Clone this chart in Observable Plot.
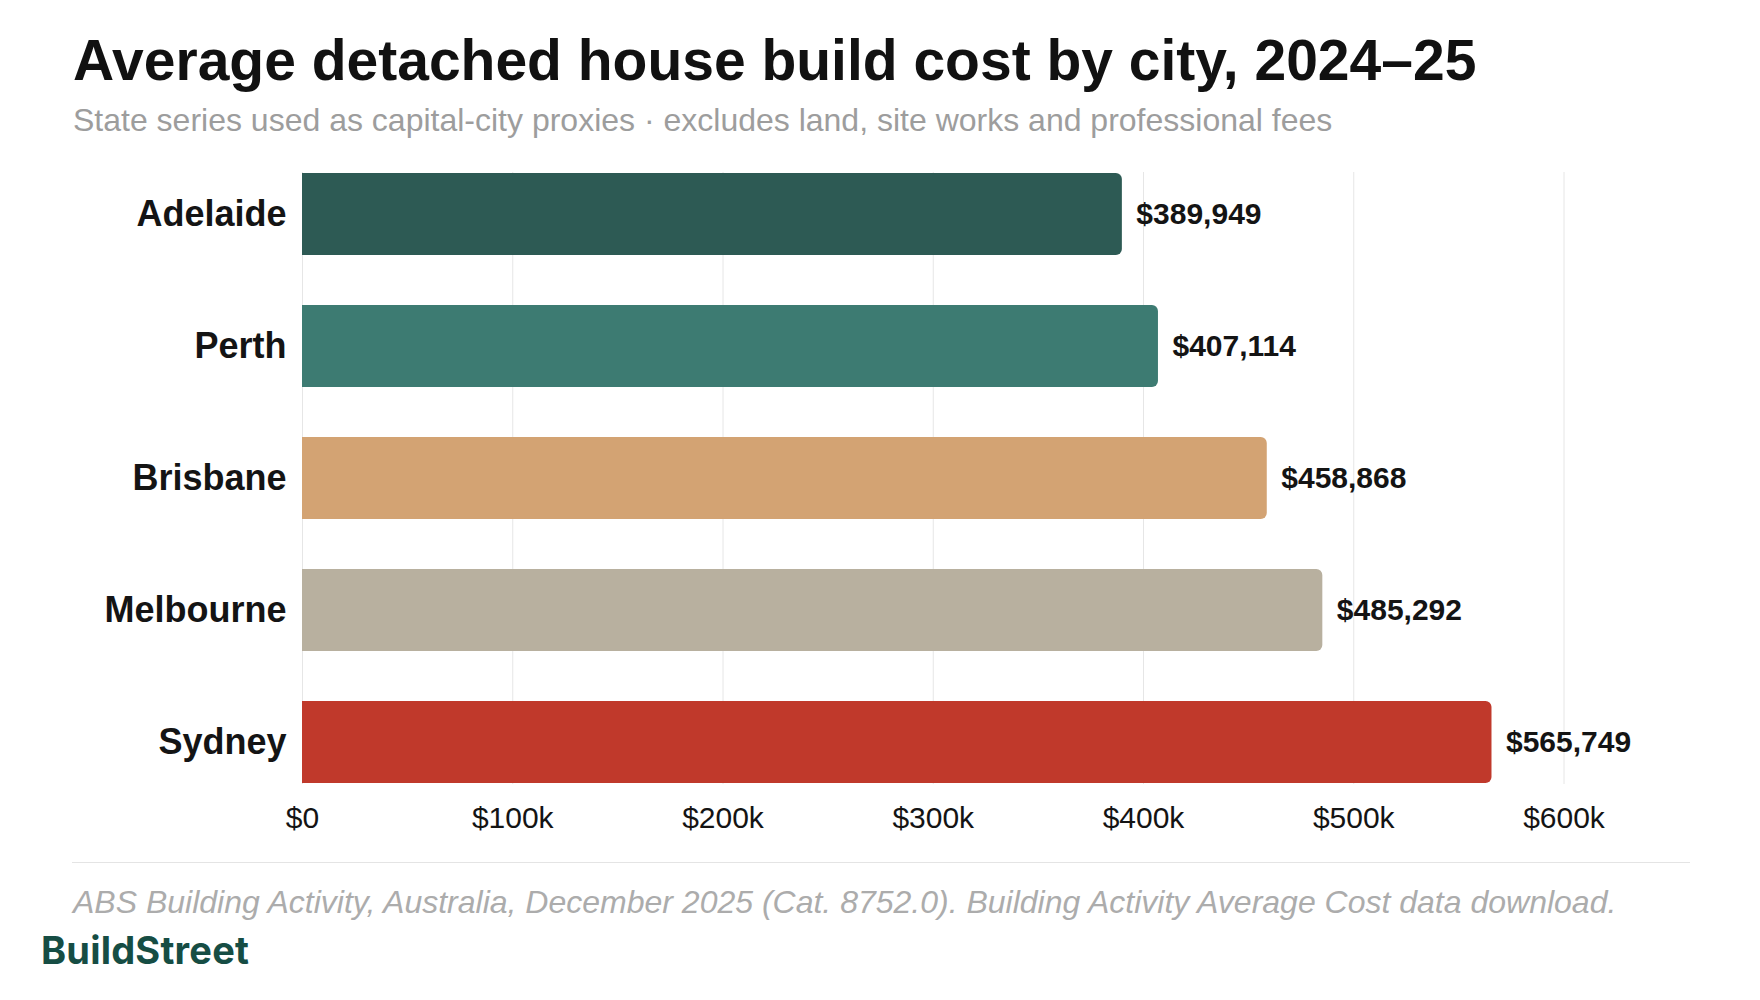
<!DOCTYPE html>
<html>
<head>
<meta charset="utf-8">
<script src="https://cdn.jsdelivr.net/npm/d3@7"></script>
<script src="https://cdn.jsdelivr.net/npm/@observablehq/plot@0.6"></script>
<style>
  html, body { margin: 0; padding: 0; background: #fff; }
  body { width: 1760px; height: 1000px; position: relative; overflow: hidden; font-family: "Liberation Sans", Arial, sans-serif; }
  .abs { position: absolute; white-space: nowrap; line-height: 1; }
  #title { left: 73px; top: 32px; font-size: 57px; font-weight: 700; color: #111; }
  #subtitle { left: 73px; top: 104px; font-size: 32px; color: #9d9d9d; }
  #chart { position: absolute; left: 0; top: 150px; }
  #rule { position: absolute; left: 72px; top: 862px; width: 1618px; height: 0; border-top: 1.5px solid #e4e4e4; }
  #caption { left: 73px; top: 886px; font-size: 32px; font-style: italic; color: #acacac; }
  #logo { left: 41px; top: 931px; font-family: Inter, "Liberation Sans", sans-serif; font-size: 38px; font-weight: 700; color: #164d44; letter-spacing: 0.2px; }
  #chart svg { overflow: visible; }
</style>
</head>
<body>
<div id="title" class="abs">Average detached house build cost by city, 2024–25</div>
<div id="subtitle" class="abs">State series used as capital-city proxies · excludes land, site works and professional fees</div>
<div id="chart"></div>
<div id="rule"></div>
<div id="caption" class="abs">ABS Building Activity, Australia, December 2025 (Cat. 8752.0). Building Activity Average Cost data download.</div>
<div id="logo" class="abs">BuildStreet</div>
<script>
const cities = ["Adelaide", "Perth", "Brisbane", "Melbourne", "Sydney"];
const costs = [389949, 407114, 458868, 485292, 565749];
const barColors = ["#2d5a54", "#3d7b72", "#d3a373", "#b8b09f", "#c0392b"];
const tickValues = [0, 100000, 200000, 300000, 400000, 500000, 600000];
const tickLabels = ["$0", "$100k", "$200k", "$300k", "$400k", "$500k", "$600k"];

const data = cities.map((city, i) => ({city, cost: costs[i], color: barColors[i]}));
const fmt = d3.format(",");

const plot = Plot.plot({
  width: 1760,
  height: 694,
  marginTop: 22,
  marginBottom: 60,
  marginLeft: 302,
  marginRight: 196.5,
  style: {fontFamily: '"Liberation Sans", Arial, sans-serif', background: "transparent", overflow: "visible"},
  x: {domain: [0, 600000], ticks: tickValues, tickFormat: (d) => tickLabels[tickValues.indexOf(d)]},
  y: {domain: cities, padding: 0.381, paddingOuter: 0},
  marks: [
    Plot.gridX(tickValues, {stroke: "#e6e6e6", strokeOpacity: 1, strokeWidth: 1}),
    Plot.barX(data, {x: "cost", y: "city", fill: "color", rx2: 6}),
    Plot.text(data, {x: "cost", y: "city", text: (d) => "$" + fmt(d.cost), textAnchor: "start", dx: 14, fontSize: 30, fontWeight: 700, fill: "#141414"}),
    Plot.axisX({ticks: tickValues, tickFormat: (d) => tickLabels[tickValues.indexOf(d)], tickSize: 0, tickPadding: 22, fontSize: 30, fill: "#141414", label: null}),
    Plot.axisY({tickSize: 0, tickPadding: 16, fontSize: 36, fontWeight: 700, fill: "#141414", label: null})
  ]
});
document.getElementById("chart").appendChild(plot);
</script>
</body>
</html>
